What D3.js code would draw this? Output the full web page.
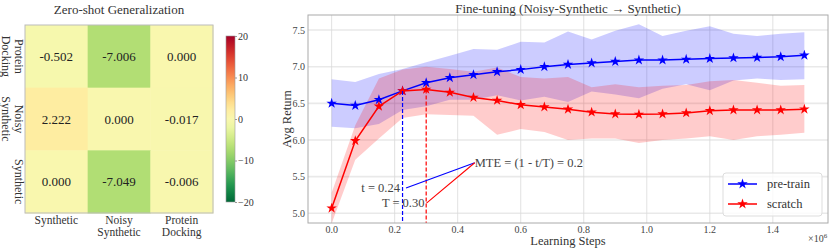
<!DOCTYPE html>
<html>
<head>
<meta charset="utf-8">
<script src="https://cdn.jsdelivr.net/npm/d3@7"></script>
<style>
  body { margin: 0; background: #fff; }
  text { font-family: "Liberation Serif", "DejaVu Serif", serif; fill: #333; }
</style>
</head>
<body>
<div id="chart"></div>
<script>
const WIDTH = 830;
const HEIGHT = 248;

// heatmap data (rows = source, cols = target)
const rowLabels = [["Protein", "Docking"], ["Noisy", "Synthetic"], ["Synthetic"]];
const colLabels = [["Synthetic"], ["Noisy", "Synthetic"], ["Protein", "Docking"]];
const heatValues = [
  [-0.502, -7.006, 0.000],
  [2.222, 0.000, -0.017],
  [0.000, -7.049, -0.006]
];
const cbarTicks = [20, 10, 0, -10, -20];

// fine-tuning curves
const steps = [0, 0.075, 0.15, 0.225, 0.3, 0.375, 0.45, 0.525, 0.6, 0.675, 0.75,
               0.825, 0.9, 0.975, 1.05, 1.125, 1.2, 1.275, 1.35, 1.425, 1.5];
const pretrainMean  = [6.50, 6.47, 6.55, 6.67, 6.78, 6.85, 6.89, 6.93, 6.96, 7.00, 7.03,
                       7.05, 7.07, 7.09, 7.09, 7.10, 7.11, 7.12, 7.125, 7.135, 7.155];
const pretrainUpper = [6.83, 6.79, 6.90, 6.97, 7.06, 7.15, 7.24, 7.23, 7.34, 7.33, 7.48,
                       7.37, 7.49, 7.58, 7.42, 7.49, 7.55, 7.45, 7.42, 7.45, 7.47];
const pretrainLower = [6.18, 6.16, 6.22, 6.41, 6.46, 6.55, 6.55, 6.61, 6.54, 6.59, 6.52,
                       6.66, 6.62, 6.57, 6.70, 6.76, 6.68, 6.81, 6.84, 6.82, 6.83];
const scratchMean   = [5.07, 5.99, 6.46, 6.67, 6.69, 6.65, 6.58, 6.54, 6.48, 6.45, 6.42,
                       6.38, 6.355, 6.35, 6.355, 6.37, 6.40, 6.41, 6.41, 6.41, 6.42];
const scratchUpper  = [5.28, 6.20, 6.84, 6.96, 7.00, 6.97, 6.93, 6.99, 6.86, 6.84, 6.86,
                       6.72, 6.76, 6.72, 6.74, 6.75, 6.80, 6.82, 6.78, 6.74, 6.75];
const scratchLower  = [4.86, 5.73, 6.02, 6.30, 6.35, 6.34, 6.33, 6.07, 6.15, 6.11, 6.00,
                       6.02, 6.02, 5.96, 6.00, 6.02, 6.05, 6.00, 6.05, 6.07, 6.10];
const xTicks = [0, 0.2, 0.4, 0.6, 0.8, 1.0, 1.2, 1.4];
const yTicks = [5.0, 5.5, 6.0, 6.5, 7.0, 7.5];

// t / T markers
const tStep = 0.225, tValue = 6.67;
const TStep = 0.3, TValue = 6.69;

const svg = d3.select("#chart").append("svg")
  .attr("width", WIDTH)
  .attr("height", HEIGHT);

// ---------- heatmap ----------
const hm = { left: 25, top: 25, size: 188 };
const hx = d3.scaleBand().domain([0, 1, 2]).range([hm.left, hm.left + hm.size]);
const hy = d3.scaleBand().domain([0, 1, 2]).range([hm.top, hm.top + hm.size]);
const heatColor = v => d3.interpolateRdYlGn(1 - (v + 20) / 40);

const hg = svg.append("g");
heatValues.forEach((row, r) => {
  row.forEach((v, c) => {
    hg.append("rect")
      .attr("x", hx(c)).attr("y", hy(r))
      .attr("width", hx.bandwidth() + 0.5).attr("height", hy.bandwidth() + 0.5)
      .attr("fill", heatColor(v));
    hg.append("text")
      .attr("x", hx(c) + hx.bandwidth() / 2)
      .attr("y", hy(r) + hy.bandwidth() / 2)
      .attr("text-anchor", "middle")
      .attr("dominant-baseline", "central")
      .style("font-size", "13px")
      .style("fill", "#222")
      .text(v.toFixed(3));
  });
});
hg.append("rect")
  .attr("x", hm.left).attr("y", hm.top)
  .attr("width", hm.size).attr("height", hm.size)
  .attr("fill", "none").attr("stroke", "#bbb").attr("stroke-width", 1);

hg.append("text")
  .attr("x", hm.left + hm.size / 2).attr("y", 9)
  .attr("text-anchor", "middle").attr("dominant-baseline", "central")
  .style("font-size", "13px")
  .text("Zero-shot Generalization");

// row labels, rotated
rowLabels.forEach((lines, r) => {
  const t = hg.append("text")
    .attr("transform", `translate(19,${hy(r) + hy.bandwidth() / 2}) rotate(90)`)
    .attr("text-anchor", "middle")
    .style("font-size", "12px");
  lines.forEach((l, i) => {
    t.append("tspan").attr("x", 0).attr("y", i * 13)
      .attr("dominant-baseline", "central").text(l);
  });
});
// column labels
colLabels.forEach((lines, c) => {
  const t = hg.append("text")
    .attr("text-anchor", "middle")
    .style("font-size", "11.5px");
  lines.forEach((l, i) => {
    t.append("tspan").attr("x", hx(c) + hx.bandwidth() / 2).attr("y", 219.5 + i * 12.5)
      .attr("dominant-baseline", "central").text(l);
  });
});

// colorbar
const cb = { x: 226, y: 36, w: 9, h: 166 };
const cbScale = d3.scaleLinear().domain([20, -20]).range([cb.y, cb.y + cb.h]);
const grad = svg.append("defs").append("linearGradient")
  .attr("id", "cbgrad").attr("x1", 0).attr("y1", 0).attr("x2", 0).attr("y2", 1);
d3.range(0, 1.0001, 0.05).forEach(t => {
  grad.append("stop").attr("offset", t).attr("stop-color", heatColor(20 - 40 * t));
});
svg.append("rect")
  .attr("x", cb.x).attr("y", cb.y).attr("width", cb.w).attr("height", cb.h)
  .attr("fill", "url(#cbgrad)").attr("stroke", "#999").attr("stroke-width", 0.6);
const cbAxis = svg.append("g").attr("transform", `translate(${cb.x + cb.w},0)`)
  .call(d3.axisRight(cbScale).tickValues(cbarTicks).tickSize(2).tickPadding(1)
    .tickFormat(d => d < 0 ? "\u2212" + Math.abs(d) : d));
cbAxis.select(".domain").remove();
cbAxis.selectAll("line").attr("stroke", "#999");
cbAxis.selectAll("text").style("font-family", "Liberation Serif, serif")
  .style("font-size", "10px").attr("fill", "#333");

// ---------- fine-tuning plot ----------
const m = { left: 308, right: 828, top: 15, bottom: 223 };
const x = d3.scaleLinear().domain([-0.075, 1.575]).range([m.left, m.right]);
const y = d3.scaleLinear().domain([4.868, 7.705]).range([m.bottom, m.top]);

const pg = svg.append("g");
pg.selectAll(".hgrid").data(yTicks).enter().append("line")
  .attr("x1", m.left).attr("x2", m.right)
  .attr("y1", d => y(d)).attr("y2", d => y(d))
  .attr("stroke", "#e9e9e9").attr("stroke-width", 1.6);
pg.selectAll(".vgrid").data(xTicks).enter().append("line")
  .attr("y1", m.top).attr("y2", m.bottom)
  .attr("x1", d => x(d)).attr("x2", d => x(d))
  .attr("stroke", "#d9d9d9").attr("stroke-width", 0.8);

const series = [
  { name: "pre-train", color: "#0000ff", fill: "rgba(0,0,255,0.2)", mean: pretrainMean, lo: pretrainLower, hi: pretrainUpper },
  { name: "scratch", color: "#ff0000", fill: "rgba(255,0,0,0.2)", mean: scratchMean, lo: scratchLower, hi: scratchUpper }
];

const area = d3.area()
  .x((d, i) => x(steps[i]))
  .y0(d => y(d[0]))
  .y1(d => y(d[1]));
const line = d3.line()
  .x((d, i) => x(steps[i]))
  .y(d => y(d));

const plotArea = pg.append("g");
series.forEach(s => {
  plotArea.append("path")
    .datum(steps.map((_, i) => [s.lo[i], s.hi[i]]))
    .attr("d", area)
    .attr("fill", s.fill);
});

// dashed t / T lines
[{ sx: tStep, v: tValue, c: "#0000ff" }, { sx: TStep, v: TValue, c: "#ff0000" }].forEach(d => {
  pg.append("line")
    .attr("x1", x(d.sx)).attr("x2", x(d.sx))
    .attr("y1", y(d.v)).attr("y2", m.bottom)
    .attr("stroke", d.c).attr("stroke-width", 1.2)
    .attr("stroke-dasharray", "4,2");
});

const star = d3.symbol().type(d3.symbolStar).size(34);
series.forEach(s => {
  plotArea.append("path")
    .datum(s.mean)
    .attr("d", line)
    .attr("fill", "none")
    .attr("stroke", s.color)
    .attr("stroke-width", 1.5);
  plotArea.selectAll(null).data(s.mean).enter().append("path")
    .attr("d", star)
    .attr("transform", (d, i) => `translate(${x(steps[i])},${y(d)})`)
    .attr("fill", s.color);
});

// annotation
const mte = { x: 0.454, y: 5.69 };
const tLab = { x: 0.236, y: 5.345 };
const TLab = { x: 0.301, y: 5.14 };
pg.append("line")
  .attr("x1", x(tLab.x)).attr("y1", y(tLab.y))
  .attr("x2", x(mte.x)).attr("y2", y(mte.y))
  .attr("stroke", "#0000ff").attr("stroke-width", 1.1);
pg.append("line")
  .attr("x1", x(TLab.x)).attr("y1", y(TLab.y))
  .attr("x2", x(mte.x)).attr("y2", y(mte.y))
  .attr("stroke", "#ff0000").attr("stroke-width", 1.1);
pg.append("text")
  .attr("x", x(mte.x)).attr("y", y(mte.y))
  .attr("dominant-baseline", "central")
  .style("font-size", "12.5px").style("fill", "#444")
  .text("MTE = (1 - t/T) = 0.2");
pg.append("text")
  .attr("x", x(tLab.x) - 6).attr("y", y(tLab.y))
  .attr("text-anchor", "end").attr("dominant-baseline", "central")
  .style("font-size", "12.5px").style("fill", "#444")
  .text("t = 0.24");
pg.append("text")
  .attr("x", x(TLab.x) - 2).attr("y", y(TLab.y))
  .attr("text-anchor", "end").attr("dominant-baseline", "central")
  .style("font-size", "12.5px").style("fill", "#444")
  .text("T = 0.30");

// frame
pg.append("rect")
  .attr("x", m.left).attr("y", m.top)
  .attr("width", m.right - m.left).attr("height", m.bottom - m.top)
  .attr("fill", "none").attr("stroke", "#aaa").attr("stroke-width", 1);

// ticks
pg.selectAll(".xt").data(xTicks).enter().append("text")
  .attr("x", d => x(d)).attr("y", 229)
  .attr("text-anchor", "middle").attr("dominant-baseline", "central")
  .style("font-size", "10px").style("fill", "#444")
  .text(d => d.toFixed(1));
pg.selectAll(".yt").data(yTicks).enter().append("text")
  .attr("x", m.left - 3).attr("y", d => y(d))
  .attr("text-anchor", "end").attr("dominant-baseline", "central")
  .style("font-size", "10px").style("fill", "#444")
  .text(d => d.toFixed(1));

pg.append("text")
  .attr("x", (m.left + m.right) / 2).attr("y", 8)
  .attr("text-anchor", "middle").attr("dominant-baseline", "central")
  .style("font-size", "13px")
  .text("Fine-tuning (Noisy-Synthetic \u2192 Synthetic)");
pg.append("text")
  .attr("x", (m.left + m.right) / 2).attr("y", 241)
  .attr("text-anchor", "middle").attr("dominant-baseline", "central")
  .style("font-size", "12.5px")
  .text("Learning Steps");
pg.append("text")
  .attr("transform", `translate(287,${(m.top + m.bottom) / 2}) rotate(-90)`)
  .attr("text-anchor", "middle").attr("dominant-baseline", "central")
  .style("font-size", "12.5px")
  .text("Avg Return");
const off = pg.append("text")
  .attr("x", 808).attr("y", 242)
  .style("font-size", "10px").style("fill", "#444");
off.append("tspan").text("\u00d710");
off.append("tspan").attr("dy", -4).style("font-size", "7px").text("6");

// legend
const lg = pg.append("g").attr("transform", "translate(723,173)");
lg.append("rect")
  .attr("width", 99).attr("height", 43).attr("rx", 3)
  .attr("fill", "rgba(255,255,255,0.8)").attr("stroke", "#ddd");
series.forEach((s, i) => {
  const yy = 11 + i * 20;
  lg.append("line").attr("x1", 5).attr("x2", 34).attr("y1", yy).attr("y2", yy)
    .attr("stroke", s.color).attr("stroke-width", 1.5);
  lg.append("path").attr("d", star).attr("transform", `translate(19.5,${yy})`)
    .attr("fill", s.color);
  lg.append("text").attr("x", 44).attr("y", yy)
    .attr("dominant-baseline", "central")
    .style("font-size", "12.5px")
    .text(s.name);
});
</script>
</body>
</html>
